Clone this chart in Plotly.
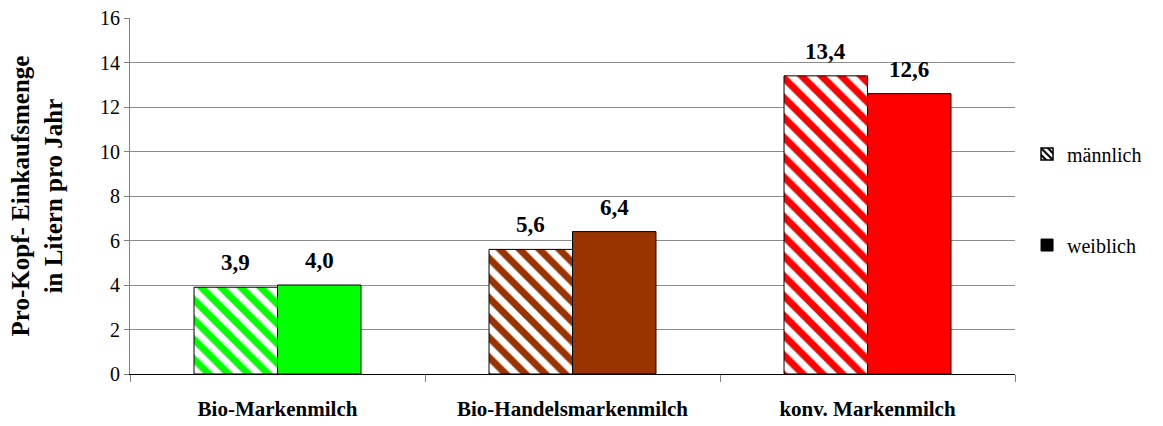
import plotly.graph_objects as go

categories = ["Bio-Markenmilch", "Bio-Handelsmarkenmilch", "konv. Markenmilch"]
maennlich = [3.9, 5.6, 13.4]
weiblich = [4.0, 6.4, 12.6]
colors = ["#00FF00", "#993300", "#FF0000"]
y_ticks = [0, 2, 4, 6, 8, 10, 12, 14, 16]

FONT = "'Times New Roman', 'Liberation Serif', serif"
BAR_W = 0.283


def fmt(v):
    return ("%.1f" % v).replace(".", ",")


fig = go.Figure()

# hatched bars (male)
fig.add_trace(go.Bar(
    x=categories, y=maennlich, width=BAR_W, offset=-BAR_W,
    marker=dict(color="white", line=dict(color="black", width=1),
                pattern=dict(shape="\\", fgcolor=colors, bgcolor="white",
                             size=14, solidity=0.5, fillmode="replace",
                             fgopacity=1)),
    showlegend=False, hoverinfo="y",
))
# solid bars (female)
fig.add_trace(go.Bar(
    x=categories, y=weiblich, width=BAR_W, offset=0,
    marker=dict(color=colors, line=dict(color="black", width=1)),
    showlegend=False, hoverinfo="y",
))

# legend entries
fig.add_trace(go.Bar(
    x=[categories[0]], y=[None], name="männlich", legendgroup="m",
    marker=dict(color="white", line=dict(color="black", width=1.5),
                pattern=dict(shape="\\", fgcolor="black", bgcolor="white",
                             size=6, solidity=0.45, fillmode="replace")),
))
fig.add_trace(go.Bar(
    x=[categories[0]], y=[None], name="weiblich", legendgroup="w",
    marker=dict(color="black", line=dict(color="black", width=1)),
))

# value labels above each bar
annotations = []
for i, cat in enumerate(categories):
    for val, centre in ((maennlich[i], i - BAR_W / 2), (weiblich[i], i + BAR_W / 2)):
        annotations.append(dict(
            x=centre, y=val, xref="x", yref="y", text="<b>%s</b>" % fmt(val),
            showarrow=False, yanchor="bottom", yshift=10,
            font=dict(family=FONT, size=23, color="black"),
        ))

fig.update_layout(
    width=1163, height=426,
    margin=dict(l=130, r=148, t=18, b=52),
    paper_bgcolor="white", plot_bgcolor="white",
    barmode="overlay",
    font=dict(family=FONT, size=18, color="black"),
    annotations=annotations,
    legend=dict(x=1.0136, y=0.49, xanchor="left", yanchor="middle",
                tracegroupgap=62, font=dict(family=FONT, size=20),
                bgcolor="rgba(0,0,0,0)", itemwidth=30),
    xaxis=dict(
        type="category", tickson="boundaries", ticks="outside", ticklen=7,
        tickcolor="#808080", showline=True, linecolor="black", linewidth=1,
        tickfont=dict(family=FONT, size=21), showgrid=False,
        tickvals=categories, ticklabelstandoff=16, automargin=False,
        ticktext=["<b>%s</b>" % c for c in categories],
        range=[-0.5, 2.5],
    ),
    yaxis=dict(
        range=[0, 16], tickvals=y_ticks, ticks="outside", ticklen=5,
        tickcolor="#808080", showline=True, linecolor="#808080",
        showgrid=True, gridcolor="#8C8C8C", gridwidth=1,
        tickfont=dict(family=FONT, size=20), zeroline=False,
        automargin=False,
        title=dict(text="<b>Pro-Kopf- Einkaufsmenge<br>in Litern pro Jahr</b>",
                   font=dict(family=FONT, size=25), standoff=30),
    ),
)

fig.write_html("out.html")
